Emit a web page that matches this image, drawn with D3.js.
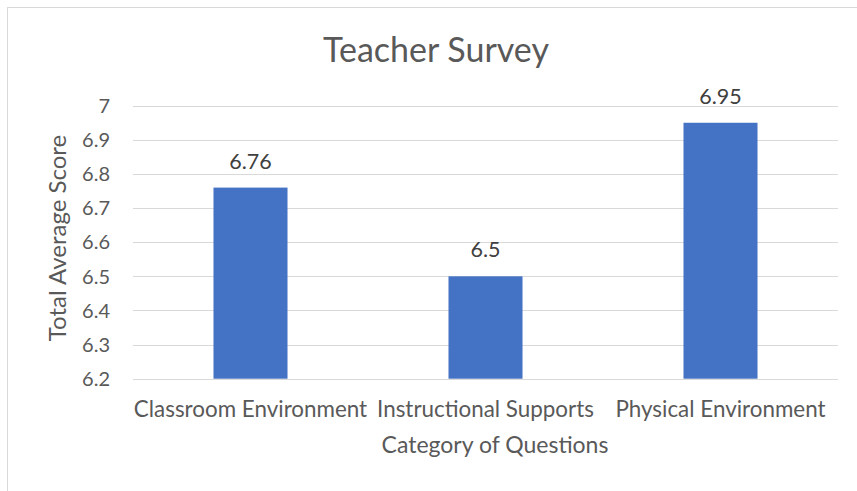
<!DOCTYPE html>
<html>
<head>
<meta charset="utf-8">
<title>Teacher Survey</title>
<script src="https://cdn.jsdelivr.net/npm/d3@7/dist/d3.min.js"></script>
<style>
    body { margin: 0; background: #fff; }
    text { font-family: Lato, "Open Sans", sans-serif; fill: #595959; }
    .grid line { stroke: #d9d9d9; stroke-width: 1; }
    .bar { fill: #4472c4; }
    .value { fill: #404040; }
</style>
</head>
<body>
<script>
    // chart data
    var categories = ["Classroom Environment", "Instructional Supports", "Physical Environment"]
    var scores = [6.76, 6.5, 6.95]
    var yTicks = [6.2, 6.3, 6.4, 6.5, 6.6, 6.7, 6.8, 6.9, 7]

    var width = 857
    var height = 491
    var plot = { left: 133, right: 838, top: 105.7, bottom: 378.7 }

    var svg = d3.select("body")
        .append("svg")
        .attr("width", width)
        .attr("height", height)

    // outer border of the chart (only left/top visible in the crop)
    svg.append("rect")
        .attr("x", 7.5)
        .attr("y", 7.5)
        .attr("width", 900)
        .attr("height", 600)
        .attr("fill", "none")
        .attr("stroke", "#d9d9d9")

    var x = d3.scaleBand()
        .domain(categories)
        .range([plot.left, plot.right])
        .paddingInner(0.685)
        .paddingOuter(0.3425)

    var y = d3.scaleLinear()
        .domain([6.2, 7])
        .range([plot.bottom, plot.top])

    // gridlines
    svg.append("g")
        .attr("class", "grid")
        .selectAll("line")
        .data(yTicks)
        .join("line")
        .attr("x1", plot.left)
        .attr("x2", plot.right)
        .attr("y1", d => Math.round(y(d)) + 0.5)
        .attr("y2", d => Math.round(y(d)) + 0.5)

    // y tick labels
    svg.append("g")
        .selectAll("text")
        .data(yTicks)
        .join("text")
        .attr("x", 110)
        .attr("y", d => y(d))
        .attr("dy", "0.36em")
        .attr("text-anchor", "end")
        .attr("font-size", "20px")
        .text(d => d3.format("")(d))

    // bars
    var data = categories.map((c, i) => ({ name: c, value: scores[i] }))

    svg.append("g")
        .selectAll("rect")
        .data(data)
        .join("rect")
        .attr("class", "bar")
        .attr("x", d => x(d.name))
        .attr("width", x.bandwidth())
        .attr("y", d => y(d.value))
        .attr("height", d => y(6.2) - y(d.value))

    // value labels
    svg.append("g")
        .selectAll("text")
        .data(data)
        .join("text")
        .attr("class", "value")
        .attr("x", d => x(d.name) + x.bandwidth() / 2)
        .attr("y", d => y(d.value) - 19)
        .attr("text-anchor", "middle")
        .attr("font-size", "21.5px")
        .text(d => d.value)

    // category labels
    svg.append("g")
        .selectAll("text")
        .data(categories)
        .join("text")
        .attr("x", d => x(d) + x.bandwidth() / 2)
        .attr("y", 417)
        .attr("text-anchor", "middle")
        .attr("font-size", "22.4px")
        .text(d => d)

    // title
    svg.append("text")
        .attr("x", 436)
        .attr("y", 62)
        .attr("text-anchor", "middle")
        .attr("font-size", "34px")
        .text("Teacher Survey")

    // axis titles
    svg.append("text")
        .attr("x", 495)
        .attr("y", 453)
        .attr("text-anchor", "middle")
        .attr("font-size", "23px")
        .text("Category of Questions")

    svg.append("text")
        .attr("transform", "translate(66,238) rotate(-90)")
        .attr("text-anchor", "middle")
        .attr("font-size", "24px")
        .text("Total Average Score")
</script>
</body>
</html>
